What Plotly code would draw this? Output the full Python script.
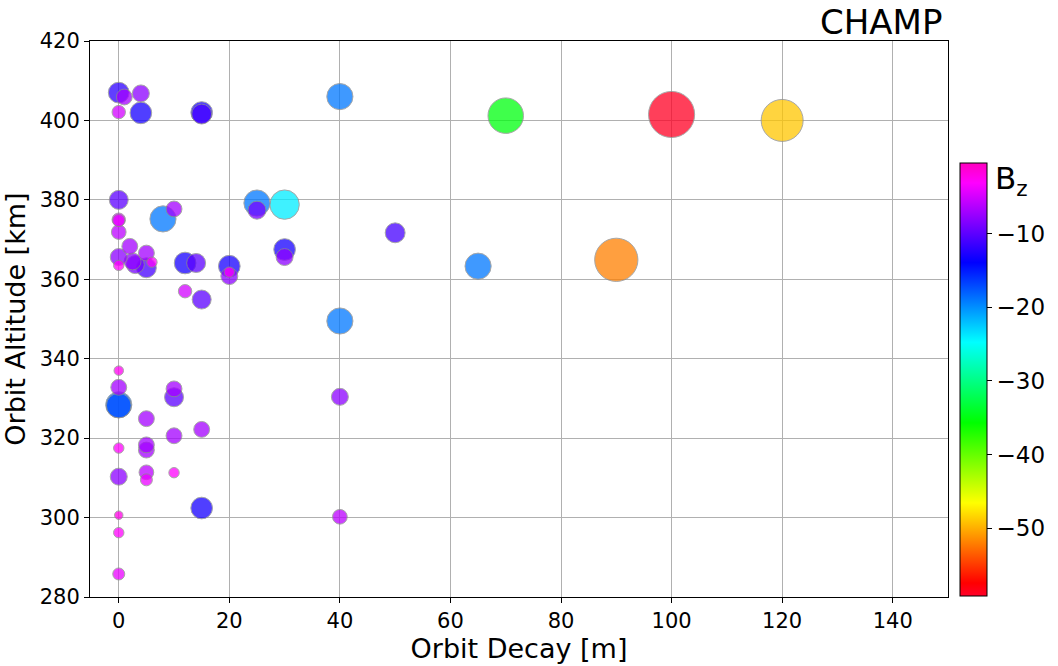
import plotly.graph_objects as go
import numpy as np

# Orbit decay [m], orbit altitude [km], Bz [nT]
decay = [0, 1, 4, 0, 4, 15, 15,
         40, 70, 100, 120,
         0, 0, 0, 0, 8, 10,
         2, 0, 0, 3, 5, 5, 6, 2.5,
         12, 14, 12, 15,
         20, 20, 20,
         25, 25, 30, 30, 30,
         40, 50, 65, 90,
         0, 0, 0, 0, 10, 10, 5, 10, 15, 40, 40,
         0, 5, 5, 0, 5, 5, 10, 0, 0, 0, 15]
altitude = [407.0, 405.9, 406.8, 402.1, 401.9, 402.0, 401.6,
            406.0, 401.2, 401.5, 400.0,
            380.0, 375.0, 374.8, 371.9, 375.2, 377.7,
            368.3, 365.6, 363.5, 363.7, 366.6, 362.9, 364.3, 364.5,
            364.1, 364.1, 357.0, 354.9,
            363.3, 361.8, 360.8,
            379.2, 377.4, 378.8, 367.5, 365.6,
            349.5, 371.7, 363.3, 364.9,
            337.0, 332.8, 328.4, 328.2, 332.4, 330.3, 324.9, 320.6, 322.2, 330.4, 300.2,
            317.5, 318.3, 317.0, 310.3, 311.4, 309.5, 311.3, 300.6, 296.2, 285.8, 302.4]
bz = [-12, -7, -8, -5, -13, -13, -11,
      -19, -35, -59, -49,
      -10, -5, -4, -6, -19, -7,
      -7, -8, -3, -9, -7, -11, -3, -8,
      -13, -10, -5, -10,
      -13, -3, -8,
      -19, -9, -24, -13, -8,
      -19, -11, -19, -52,
      -2.5, -7, -19, -17, -7, -10, -7, -7, -7, -8, -6,
      -3, -7, -7, -8, -6, -4, -3, -2, -3, -4, -13]

x_ticks = [0, 20, 40, 60, 80, 100, 120, 140]
y_ticks = [280, 300, 320, 340, 360, 380, 400, 420]
cbar_ticks = [-10, -20, -30, -40, -50]

# draw big markers first so small ones sit on top
order = np.argsort(np.abs(np.array(bz)))[::-1]
xs = np.array(decay)[order]
ys = np.array(altitude)[order]
cs = np.array(bz, dtype=float)[order]
sizes = 6.0 * np.sqrt(np.abs(cs))

gist_rainbow = [[0.0, 'rgb(255,0,41)'], [0.03, 'rgb(255,0,0)'], [0.215, 'rgb(255,255,0)'],
                [0.4, 'rgb(0,255,0)'], [0.586, 'rgb(0,255,255)'], [0.77, 'rgb(0,0,255)'],
                [0.954, 'rgb(255,0,255)'], [1.0, 'rgb(255,0,191)']]

FONT = "DejaVu Sans"

fig = go.Figure()
fig.add_trace(go.Scatter(
    x=xs, y=ys, mode="markers",
    marker=dict(
        size=sizes, color=cs, colorscale=gist_rainbow, cmin=-59.2, cmax=-0.4,
        opacity=0.75, line=dict(color="#8a8a8a", width=1),
        showscale=True,
        colorbar=dict(
            x=1.014, xanchor="left", y=0.002, yanchor="bottom", xpad=0, ypad=0,
            len=0.779, lenmode="fraction", thickness=27,
            outlinecolor="black", outlinewidth=1,
            ticks="outside", ticklen=5, tickcolor="black",
            tickvals=cbar_ticks, tickfont=dict(family=FONT, size=23, color="black"),
        ),
    ),
    showlegend=False,
))

axis_common = dict(
    showline=True, linecolor="black", linewidth=1, mirror=True,
    ticks="outside", ticklen=5, tickcolor="black",
    showgrid=True, gridcolor="#b0b0b0", gridwidth=1, zeroline=False,
    tickfont=dict(family=FONT, size=21, color="black"),
    automargin=False,
)

fig.update_layout(
    width=1058, height=666,
    margin=dict(l=90, r=110, t=41, b=69, autoexpand=False),
    paper_bgcolor="white", plot_bgcolor="white",
    font=dict(family=FONT, color="black"),
    xaxis=dict(range=[-5.2, 150], tickvals=x_ticks,
               title=dict(text="Orbit Decay [m]", font=dict(family=FONT, size=27), standoff=4),
               **axis_common),
    yaxis=dict(range=[280, 420], tickvals=y_ticks,
               title=dict(text="Orbit Altitude [km]", font=dict(family=FONT, size=27), standoff=6),
               **axis_common),
    annotations=[
        dict(text="CHAMP", xref="paper", yref="paper", x=0.995, y=0.995, xanchor="right",
             yanchor="bottom", showarrow=False, font=dict(family=FONT, size=34, color="black")),
        dict(text="B<sub>z</sub>", xref="paper", yref="paper", x=1.053, y=0.75, xanchor="left",
             yanchor="middle", showarrow=False, font=dict(family=FONT, size=31, color="black")),
    ],
)

fig.write_html("out.html", config={"displayModeBar": False},
               post_script="document.body.style.margin='0';document.body.style.overflow='hidden';")
